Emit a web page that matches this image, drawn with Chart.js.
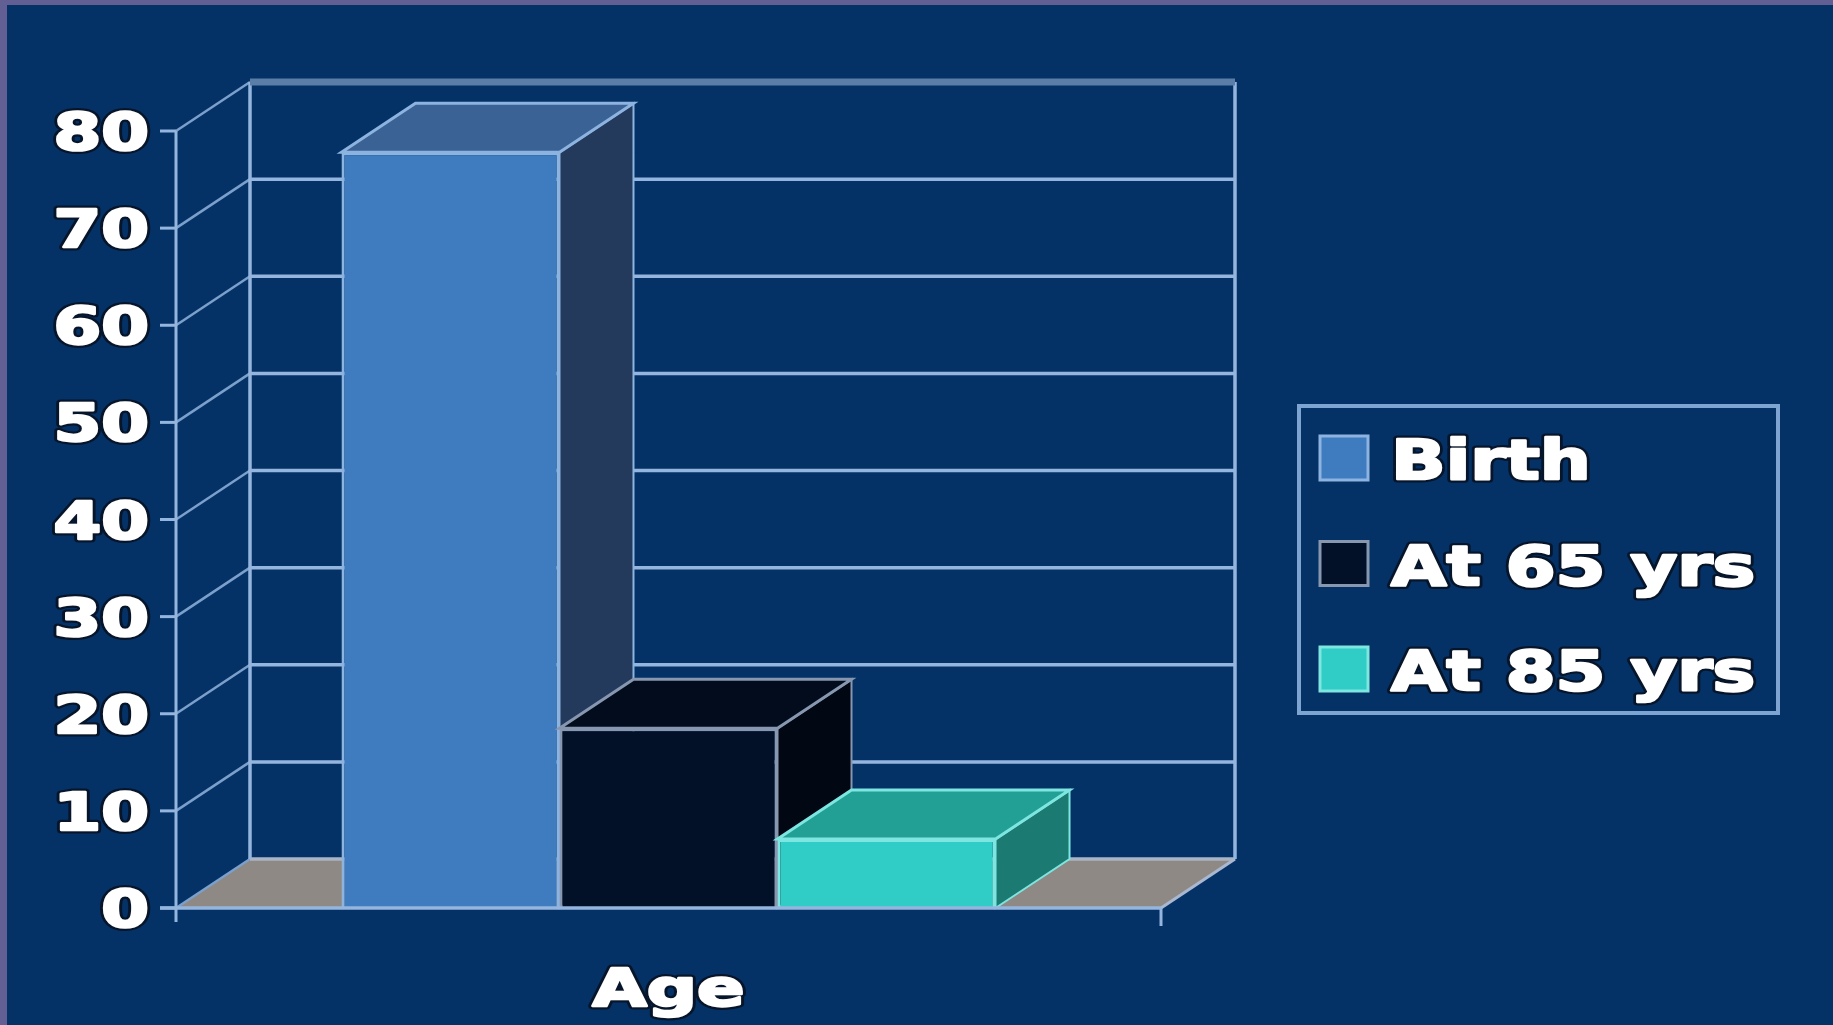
<!DOCTYPE html>
<html lang="en">
<head>
    <meta charset="UTF-8">
    <title>Life expectancy by age</title>
    <script src="https://cdn.jsdelivr.net/npm/chart.js"></script>
    <style>
        html, body { margin: 0; padding: 0; background: #053266; overflow: hidden; }
        canvas { display: block; }
    </style>
</head>
<body>
    <canvas id="ageChart" width="1833" height="1025"></canvas>

    <script>
        // data
        const categories = ['Age'];
        const seriesNames = ['Birth', 'At 65 yrs', 'At 85 yrs'];
        const birthValues = [77.8];
        const at65Values = [18.5];
        const at85Values = [7.1];
        const yTicks = [0, 10, 20, 30, 40, 50, 60, 70, 80];

        // look of the 3d boxes: front / top / side / edge
        const faceColors = [
            { front: '#3e7cbf', top: '#3a6295', side: '#233a5c', edge: '#8db4e0' },
            { front: '#021028', top: '#030c1c', side: '#010713', edge: '#8797b0' },
            { front: '#30ccc6', top: '#23a096', side: '#1b7a72', edge: '#7ee6e0' }
        ];
        const bg = '#053266';
        const lineCol = '#94b6de';
        const DX = 74, DY = -49;   // depth offset of the back wall

        function label(ctx, text, x, y, align, size, sx) {
            ctx.save();
            ctx.font = 'bold ' + size + 'px "DejaVu Sans"';
            ctx.translate(x, y);
            ctx.scale(sx, 1);
            ctx.textAlign = align;
            ctx.textBaseline = 'alphabetic';
            ctx.lineJoin = 'round';
            ctx.lineWidth = 7;
            ctx.strokeStyle = '#07152b';
            ctx.strokeText(text, 0, 0);
            ctx.fillStyle = '#ffffff';
            ctx.fillText(text, 0, 0);
            // thicken the strokes, the original face is a black-weight font
            ctx.lineWidth = 2.5;
            ctx.strokeStyle = '#ffffff';
            ctx.strokeText(text, 0, 0);
            ctx.restore();
        }

        function poly(ctx, pts, fill, stroke, lw) {
            ctx.beginPath();
            ctx.moveTo(pts[0][0], pts[0][1]);
            for (let i = 1; i < pts.length; i++) ctx.lineTo(pts[i][0], pts[i][1]);
            ctx.closePath();
            if (fill) { ctx.fillStyle = fill; ctx.fill(); }
            if (stroke) { ctx.strokeStyle = stroke; ctx.lineWidth = lw; ctx.stroke(); }
        }

        function line(ctx, x1, y1, x2, y2, col, lw) {
            ctx.beginPath();
            ctx.moveTo(x1, y1);
            ctx.lineTo(x2, y2);
            ctx.strokeStyle = col;
            ctx.lineWidth = lw;
            ctx.stroke();
        }

        const box3d = {
            id: 'box3d',
            beforeDraw(chart) {
                const ctx = chart.ctx;
                ctx.save();
                ctx.fillStyle = bg;
                ctx.fillRect(0, 0, chart.width, chart.height);
                // purple slide frame at top and left
                ctx.fillStyle = '#625f94';
                ctx.fillRect(0, 0, chart.width, 5);
                ctx.fillRect(0, 0, 7, chart.height);
                ctx.restore();
            },
            beforeDatasetsDraw(chart) {
                const { ctx, chartArea: a, scales: { y } } = chart;
                const y0 = y.getPixelForValue(0);
                const yTop = y.getPixelForValue(yTicks[yTicks.length - 1]);
                ctx.save();
                // floor
                poly(ctx, [[a.left, y0], [a.right, y0], [a.right + DX, y0 + DY], [a.left + DX, y0 + DY]], '#8e8984');
                // back wall grid + side wall diagonals
                yTicks.forEach(v => {
                    const py = y.getPixelForValue(v);
                    if (v > 0) line(ctx, a.left + DX, py + DY, a.right + DX, py + DY, lineCol, 3.5);
                    line(ctx, a.left, py, a.left + DX, py + DY, '#7ca0cc', 2.5);
                });
                line(ctx, a.left + DX, y0 + DY, a.right + DX, y0 + DY, '#a9b4c6', 3.5);
                line(ctx, a.left + DX, yTop + DY, a.left + DX, y0 + DY, lineCol, 3.5);
                line(ctx, a.right + DX, yTop + DY, a.right + DX, y0 + DY, lineCol, 3.5);
                line(ctx, a.left + DX, yTop + DY, a.right + DX, yTop + DY, '#5a7ea8', 7);
                line(ctx, a.right, y0, a.right + DX, y0 + DY, '#a9b8d0', 3);

                // boxes left to right: side, top, then the library's own front face
                chart.getSortedVisibleDatasetMetas().forEach((meta, i) => {
                    const c = faceColors[i];
                    meta.data.forEach(bar => {
                        const p = bar.getProps(['x', 'y', 'base', 'width'], true);
                        const l = p.x - p.width / 2, r = p.x + p.width / 2;
                        poly(ctx, [[r, p.y], [r + DX, p.y + DY], [r + DX, p.base + DY], [r, p.base]], c.side, c.edge, 2);
                        poly(ctx, [[l, p.y], [r, p.y], [r + DX, p.y + DY], [l + DX, p.y + DY]], c.top, c.edge, 3);
                        bar.draw(ctx);
                    });
                });
                ctx.restore();
                return false;
            },
            afterDraw(chart) {
                const { ctx, chartArea: a, scales: { y } } = chart;
                const y0 = y.getPixelForValue(0);
                const yTop = y.getPixelForValue(yTicks[yTicks.length - 1]);
                ctx.save();
                // front axis, floor edge, ticks
                line(ctx, a.left, yTop, a.left, y0 + 14, lineCol, 3);
                line(ctx, a.left - 16, y0, a.right, y0, lineCol, 3.5);
                line(ctx, a.right, y0, a.right, y0 + 18, lineCol, 3);
                yTicks.forEach(v => {
                    const py = y.getPixelForValue(v);
                    line(ctx, a.left - 16, py, a.left, py, lineCol, 3);
                    label(ctx, String(v), a.left - 27, py + 19, 'right', 52, 1.32);
                });
                // x axis title
                label(ctx, categories[0], (a.left + a.right) / 2, 1006, 'center', 52, 1.35);

                // legend
                ctx.strokeStyle = '#7ea5d1';
                ctx.lineWidth = 4;
                ctx.strokeRect(1299, 406, 479, 307);
                chart.data.datasets.forEach((ds, i) => {
                    const cy = 458 + i * 105.5;
                    ctx.fillStyle = faceColors[i].front;
                    ctx.fillRect(1320, cy - 22, 48, 44);
                    ctx.strokeStyle = faceColors[i].edge;
                    ctx.lineWidth = 3;
                    ctx.strokeRect(1320, cy - 22, 48, 44);
                    label(ctx, ds.label, 1391, cy + 21, 'left', 56, 1.28);
                });
                ctx.restore();
            }
        };

        const ctx = document.getElementById('ageChart').getContext('2d');
        const ageChart = new Chart(ctx, {
            type: 'bar',
            data: {
                labels: categories,
                datasets: [
                    { label: seriesNames[0], data: birthValues },
                    { label: seriesNames[1], data: at65Values },
                    { label: seriesNames[2], data: at85Values }
                ].map((d, i) => Object.assign(d, {
                    backgroundColor: faceColors[i].front,
                    borderColor: faceColors[i].edge,
                    borderWidth: 3,
                    categoryPercentage: 0.664,
                    barPercentage: 1.0
                }))
            },
            options: {
                responsive: false,
                animation: false,
                devicePixelRatio: 1,
                layout: { padding: { left: 176, right: 672, top: 131, bottom: 117 } },
                scales: {
                    x: { display: false },
                    y: { display: false, min: 0, max: 80 }
                },
                plugins: {
                    legend: { display: false },
                    tooltip: { enabled: false }
                }
            },
            plugins: [box3d]
        });
    </script>
</body>
</html>
